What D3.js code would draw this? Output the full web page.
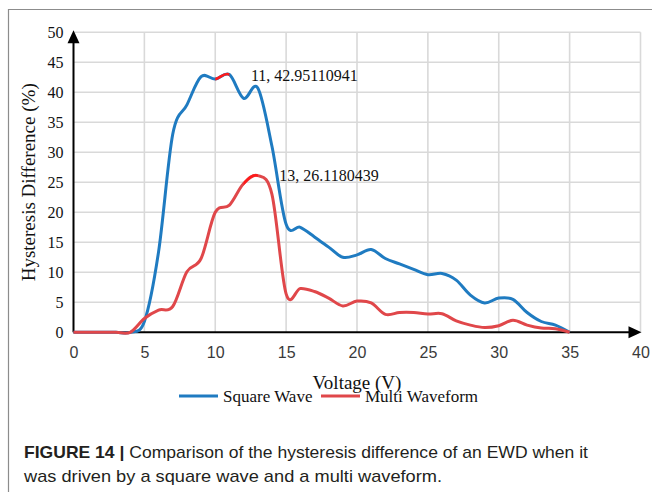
<!DOCTYPE html>
<html>
<head>
<meta charset="utf-8">
<script src="https://cdn.jsdelivr.net/npm/d3@7"></script>
<style>
  body { margin: 0; background: #fff; }
  svg { display: block; }
</style>
</head>
<body>
<div id="chart"></div>
<script>
// voltage steps (V)
var voltage = [0,1,2,3,4,5,6,7,8,9,10,11,12,13,14,15,16,17,18,19,20,21,22,23,24,25,26,27,28,29,30,31,32,33,34,35];
// hysteresis difference (%)
var squareWave = [0,0,0,0,0,1.8,13.4,33.0,37.9,42.6,42.2,42.95110941,39.0,40.7,31.0,18.0,17.5,15.9,14.2,12.5,12.9,13.8,12.3,11.4,10.5,9.6,9.8,8.7,6.2,4.9,5.7,5.5,3.3,1.8,1.2,0];
var multiWave = [0,0,0,0,0,2.3,3.7,4.3,10.1,12.3,20.0,21.2,24.8,26.1180439,23.0,6.4,7.3,6.8,5.7,4.4,5.2,4.9,3.0,3.3,3.3,3.05,3.1,1.9,1.2,0.8,1.1,2.0,1.2,0.7,0.6,0];
var seriesNames = ['Square Wave', 'Multi Waveform'];
var seriesColors = ['#1f7bc1', '#e0474a'];
var xTicks = [0,5,10,15,20,25,30,35,40];
var yTicks = [0,5,10,15,20,25,30,35,40,45,50];
// labelled points [series, index]
var labelled = [[0, 11], [1, 13]];
// highlighted segments [series, from x, to x]
var highlight = [[0, 10, 11], [1, 12, 13]];
var captionBold = 'FIGURE 14 |';
var captionLines = ['Comparison of the hysteresis difference of an EWD when it',
                    'was driven by a square wave and a multi waveform.'];

var width = 652, height = 492;
var svg = d3.select('#chart').append('svg')
    .attr('width', width)
    .attr('height', height);

// frame (top and left edges only)
svg.append('path')
    .attr('d', 'M8.5,492V9.5H652')
    .attr('fill', 'none')
    .attr('stroke', '#8c8c8c')
    .attr('stroke-width', 1.2);

var x = d3.scaleLinear().domain([0, 40]).range([73.5, 640.5]);
var y = d3.scaleLinear().domain([0, 50]).range([332.3, 32.3]);

// grid
var grid = svg.append('g').attr('stroke', '#d9d9d9').attr('stroke-width', 1.6);
grid.selectAll('.hg').data(yTicks.slice(1)).enter().append('line')
    .attr('x1', x(0)).attr('x2', x(40))
    .attr('y1', function(d) { return y(d); }).attr('y2', function(d) { return y(d); });
grid.selectAll('.vg').data(xTicks.slice(1)).enter().append('line')
    .attr('y1', y(0)).attr('y2', y(50))
    .attr('x1', function(d) { return x(d); }).attr('x2', function(d) { return x(d); });

// tick labels
var yAxis = svg.append('g')
    .attr('transform', 'translate(' + (x(0) - 10) + ',0)')
    .call(d3.axisLeft(y).tickValues(yTicks).tickSize(0).tickPadding(0));
yAxis.select('.domain').remove();
yAxis.selectAll('text')
    .attr('font-family', '"Liberation Serif", "Times New Roman", serif')
    .attr('font-size', 16)
    .attr('fill', '#111');

var xAxis = svg.append('g')
    .attr('transform', 'translate(0,' + (y(0) + 14) + ')')
    .call(d3.axisBottom(x).tickValues(xTicks).tickSize(0).tickPadding(0));
xAxis.select('.domain').remove();
xAxis.selectAll('text')
    .attr('font-family', '"Liberation Sans", Arial, sans-serif')
    .attr('font-size', 16)
    .attr('fill', '#3a3a3a');

// axis lines with arrows
svg.append('line')
    .attr('x1', x(0)).attr('x2', x(40) - 10)
    .attr('y1', y(0)).attr('y2', y(0))
    .attr('stroke', '#000').attr('stroke-width', 2);
svg.append('line')
    .attr('x1', x(0)).attr('x2', x(0))
    .attr('y1', y(0)).attr('y2', y(50) + 10)
    .attr('stroke', '#000').attr('stroke-width', 2);
svg.append('path')
    .attr('d', 'M' + (x(40) + 1) + ',' + y(0) + 'l-13,-6v12z')
    .attr('fill', '#000');
svg.append('path')
    .attr('d', 'M' + x(0) + ',' + (y(50) - 2) + 'l-6,13h12z')
    .attr('fill', '#000');

// lines
var line = d3.line()
    .x(function(d) { return x(d[0]); })
    .y(function(d) { return y(d[1]); })
    .curve(d3.curveCatmullRom.alpha(0));

var allSeries = [squareWave, multiWave].map(function(vals) {
    return voltage.map(function(v, i) { return [v, vals[i]]; });
});

svg.selectAll('.series').data(allSeries).enter().append('path')
    .attr('class', 'series')
    .attr('d', line)
    .attr('fill', 'none')
    .attr('stroke', function(d, i) { return seriesColors[i]; })
    .attr('stroke-width', 3)
    .attr('stroke-linejoin', 'round');

// highlighted bits (selected points in the original)
highlight.forEach(function(h, k) {
    svg.append('clipPath').attr('id', 'hl' + k)
        .append('rect')
        .attr('x', x(h[1])).attr('width', x(h[2]) - x(h[1]))
        .attr('y', 0).attr('height', height);
    svg.append('path')
        .attr('d', line(allSeries[h[0]]))
        .attr('clip-path', 'url(#hl' + k + ')')
        .attr('fill', 'none')
        .attr('stroke', '#ff1a1a')
        .attr('stroke-width', 2.6);
});

// data labels
var labelOffset = [[0, 6], [0, 5]];
svg.selectAll('.dlabel').data(labelled).enter().append('text')
    .attr('x', function(d, i) { return x(voltage[d[1]]) + 21.5 + labelOffset[i][0]; })
    .attr('y', function(d, i) { return y(allSeries[d[0]][d[1]][1]) + labelOffset[i][1]; })
    .attr('font-family', '"Liberation Serif", "Times New Roman", serif')
    .attr('font-size', 16)
    .attr('fill', '#111')
    .text(function(d) { return voltage[d[1]] + ', ' + allSeries[d[0]][d[1]][1]; });

// axis titles
svg.append('text')
    .attr('transform', 'translate(35,' + ((y(0) + y(50)) / 2) + ') rotate(-90)')
    .attr('text-anchor', 'middle')
    .attr('font-family', '"Liberation Serif", "Times New Roman", serif')
    .attr('font-size', 19)
    .attr('fill', '#111')
    .text('Hysteresis Difference (%)');

svg.append('text')
    .attr('x', 357).attr('y', 389)
    .attr('text-anchor', 'middle')
    .attr('font-family', '"Liberation Serif", "Times New Roman", serif')
    .attr('font-size', 19)
    .attr('fill', '#111')
    .text('Voltage (V)');

// legend
var legendX = [179, 321];
var legend = svg.selectAll('.leg').data(seriesNames).enter().append('g')
    .attr('transform', function(d, i) { return 'translate(' + legendX[i] + ',396)'; });
legend.append('line')
    .attr('x1', 0).attr('x2', 39)
    .attr('stroke', function(d, i) { return seriesColors[i]; })
    .attr('stroke-width', 3);
legend.append('text')
    .attr('x', 44).attr('y', 5.5)
    .attr('font-family', '"Liberation Serif", "Times New Roman", serif')
    .attr('font-size', 17)
    .attr('fill', '#111')
    .text(function(d) { return d; });

// caption
var cap1 = svg.append('text')
    .attr('x', 24).attr('y', 458)
    .attr('font-family', '"Liberation Sans Narrow", "Liberation Sans", Arial, sans-serif')
    .attr('font-size', 17)
    .attr('fill', '#231f20')
    .attr('textLength', 564)
    .attr('lengthAdjust', 'spacingAndGlyphs');
cap1.append('tspan').attr('font-weight', 'bold').text(captionBold);
cap1.append('tspan').text(' ' + captionLines[0]);
svg.append('text')
    .attr('x', 24).attr('y', 482)
    .attr('font-family', '"Liberation Sans Narrow", "Liberation Sans", Arial, sans-serif')
    .attr('font-size', 17)
    .attr('fill', '#231f20')
    .attr('textLength', 418)
    .attr('lengthAdjust', 'spacingAndGlyphs')
    .text(captionLines[1]);
</script>
</body>
</html>
